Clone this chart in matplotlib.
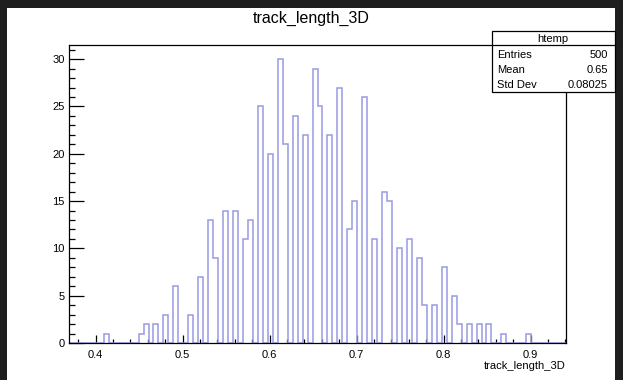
import numpy as np
import matplotlib.pyplot as plt
from matplotlib.patches import Rectangle
from matplotlib.lines import Line2D
from matplotlib.ticker import MultipleLocator

plt.rcParams["font.family"] = ["Liberation Sans", "DejaVu Sans"]

# track lengths are stored to 0.01, so each value gets its own entry count
track_length = [0.41, 0.45, 0.46, 0.47, 0.48, 0.49, 0.51, 0.52, 0.53, 0.54,
                0.55, 0.56, 0.57, 0.58, 0.59, 0.60, 0.61, 0.62, 0.63, 0.64,
                0.65, 0.66, 0.67, 0.68, 0.69, 0.70, 0.71, 0.72, 0.73, 0.74,
                0.75, 0.76, 0.77, 0.78, 0.79, 0.80, 0.81, 0.82, 0.83, 0.84,
                0.85, 0.87, 0.90]
counts = [1, 1, 2, 2, 3, 6, 3, 7, 13, 9,
          14, 14, 11, 13, 25, 20, 30, 21, 24, 22,
          29, 25, 22, 27, 12, 15, 26, 11, 16, 15,
          10, 11, 9, 4, 4, 8, 5, 2, 2, 2,
          2, 1, 1]

# htemp binning: 100 bins over the auto range
NBINS = 100
XMIN, XMAX = 0.3693, 0.9407

W, H = 623, 380
HIST_COLOR = "#9a9ae4"


def fig_xy(x, y):
    """pixel position (from top-left) -> figure fraction"""
    return x / W, 1 - y / H


vals = np.asarray(track_length)
wts = np.asarray(counts)
n_entries = int(wts.sum())
mean = np.sum(vals * wts) / n_entries
std = np.sqrt(np.sum(wts * (vals - mean) ** 2) / n_entries)

fig = plt.figure(figsize=(W / 100, H / 100), dpi=100)
fig.patch.set_facecolor("#1e1e1e")
x0, y0 = fig_xy(7, 380)
x1, y1 = fig_xy(615, 8)
fig.patches.append(Rectangle((x0, y0), x1 - x0, y1 - y0, transform=fig.transFigure,
                             facecolor="white", edgecolor="none", zorder=-1))

left, bottom = fig_xy(69, 343)
right, top = fig_xy(566, 45)
ax = fig.add_axes([left, bottom, right - left, top - bottom])
ax.set_facecolor("white")

edges = np.linspace(XMIN, XMAX, NBINS + 1)
ax.hist(vals, bins=edges, weights=wts, histtype="step", color=HIST_COLOR, linewidth=1.1)

ax.set_xlim(XMIN, XMAX)
ax.set_ylim(0, 31.5)
ax.xaxis.set_major_locator(MultipleLocator(0.1))
ax.xaxis.set_minor_locator(MultipleLocator(0.02))
ax.yaxis.set_major_locator(MultipleLocator(5))
ax.yaxis.set_minor_locator(MultipleLocator(1))
ax.xaxis.set_major_formatter(lambda v, p: f"{v:.1f}")

ax.tick_params(axis="x", which="major", direction="in", length=6, width=0.9,
               labelsize=8, pad=5, top=False)
ax.tick_params(axis="x", which="minor", direction="in", length=3, width=0.9, top=False)
ax.tick_params(axis="y", which="major", direction="in", length=11, width=0.9,
               labelsize=8, pad=3, right=False)
ax.tick_params(axis="y", which="minor", direction="in", length=4.5, width=0.9, right=False)
for s in ax.spines.values():
    s.set_linewidth(0.9)
    s.set_color("black")

# title and axis label
tx, ty = fig_xy(311, 18)
fig.text(tx, ty, "track_length_3D", ha="center", va="center", fontsize=11.5)
lx, ly = fig_xy(566, 366)
fig.text(lx, ly, "track_length_3D", ha="right", va="center", fontsize=8)

# statistics box
bx0, by0 = fig_xy(491.5, 91.5)
bx1, by1 = fig_xy(615, 31.5)
fig.patches.append(Rectangle((bx0, by0), bx1 - bx0, by1 - by0, transform=fig.transFigure,
                             facecolor="white", edgecolor="black", linewidth=0.9, zorder=5))
_, sep = fig_xy(0, 45)
fig.lines.append(Line2D([bx0, bx1], [sep, sep], transform=fig.transFigure,
                        color="black", linewidth=0.9, zorder=6))
hx, hy = fig_xy(553, 38.5)
fig.text(hx, hy, "htemp", ha="center", va="center", fontsize=8, zorder=7)
rows = [("Entries", f"{n_entries}"), ("Mean", f"{mean:.4g}"), ("Std Dev", f"{std:.4g}")]
for i, (name, val) in enumerate(rows):
    _, ry = fig_xy(0, 54.5 + 15.5 * i)
    fig.text(fig_xy(497, 0)[0], ry, name, ha="left", va="center", fontsize=8, zorder=7)
    fig.text(fig_xy(608, 0)[0], ry, val, ha="right", va="center", fontsize=8, zorder=7)

fig.savefig("out.png", dpi=100, facecolor=fig.get_facecolor())
